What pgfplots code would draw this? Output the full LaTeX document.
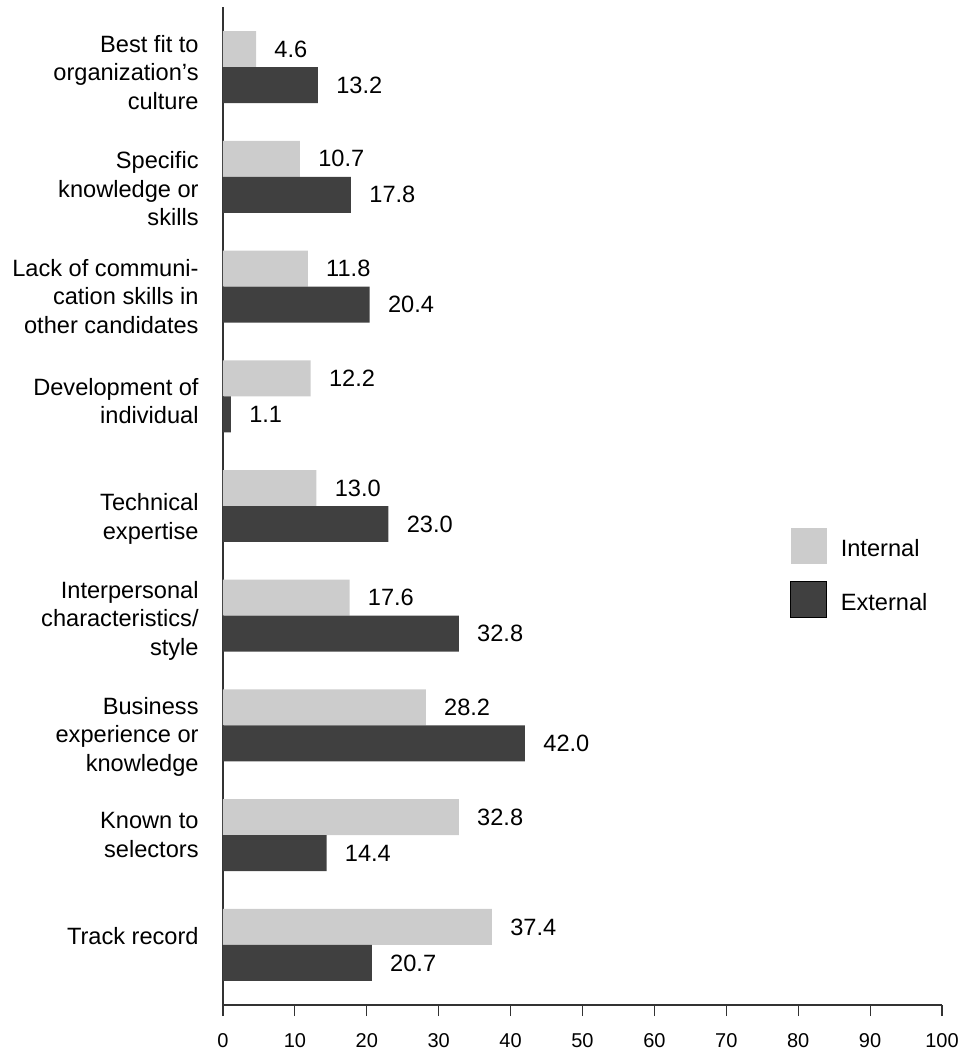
\documentclass[border=0pt]{standalone}
\usepackage{pgfplots}
\pgfplotsset{compat=1.18}
\usepackage{fontspec}
\setmainfont{Liberation Sans}
\definecolor{lightbar}{HTML}{CCCCCC}
\definecolor{darkbar}{HTML}{404040}
\begin{document}
\begin{tikzpicture}
\path[use as bounding box] (0,0) rectangle (482pt,525pt);
\begin{axis}[
  at={(111.5pt,22.5pt)}, anchor=south west,
  scale only axis, width=359.5pt, height=499pt,
  xbar, bar width=0.328,
  xmin=0, xmax=100, ymin=-0.547, ymax=8.547,
  clip=false,
  axis x line=bottom, axis y line=left,
  axis line style={-, black!80, line width=0.6pt},
  xtick={0,10,...,100},
  tick align=outside,
  major tick length=5.5pt,
  xtick style={black!80, line width=0.6pt},
  ytick style={draw=none},
  ytick={0.082,1,1.9,2.954,3.882,4.954,5.909,6.891,7.954},
  yticklabels={{Track record},{Known to\\selectors},{Business\\experience or\\knowledge},{Interpersonal\\characteristics/\\style},{Technical\\expertise},{Development of\\individual},{Lack of communi-\\cation skills in\\other candidates},{Specific\\knowledge or\\skills},{Best fit to\\organization’s\\culture}},
  yticklabel style={font=\fontsize{11.8}{14.25}\selectfont, align=right, inner sep=0pt, xshift=-6.5pt},
  xticklabel style={font=\fontsize{10}{12}\selectfont, yshift=-5pt},
  /pgf/number format/assume math mode=true,
  nodes near coords={\pgfmathprintnumber[fixed,fixed zerofill,precision=1,assume math mode=true]{\pgfplotspointmeta}},
  nodes near coords style={font=\fontsize{11.8}{14}\selectfont, anchor=west, inner sep=0pt, xshift=9pt},
  legend style={draw=none, fill=none, at={(0.7886,0.478)}, anchor=north west, inner sep=0pt, row sep=8.5pt, column sep=4.7pt, font=\fontsize{11.8}{14}\selectfont},
  legend cell align=left,
]
\addplot[fill=lightbar, draw=none, bar shift=0.164,
  legend image code/.code={\draw[fill=lightbar, draw=none] (0pt,-7.4pt) rectangle (18pt,10.6pt);}]
  coordinates {(37.4,0) (32.8,1) (28.2,2) (17.6,3) (13.0,4) (12.2,5) (11.8,6) (10.7,7) (4.6,8)};
\addlegendentry{Internal}
\addplot[fill=darkbar, draw=none, bar shift=-0.164,
  legend image code/.code={\draw[fill=darkbar, draw=black, line width=0.5pt] (0pt,-7.4pt) rectangle (18pt,10.6pt);}]
  coordinates {(20.7,0) (14.4,1) (42.0,2) (32.8,3) (23.0,4) (1.1,5) (20.4,6) (17.8,7) (13.2,8)};
\addlegendentry{External}
\end{axis}
\end{tikzpicture}
\end{document}
